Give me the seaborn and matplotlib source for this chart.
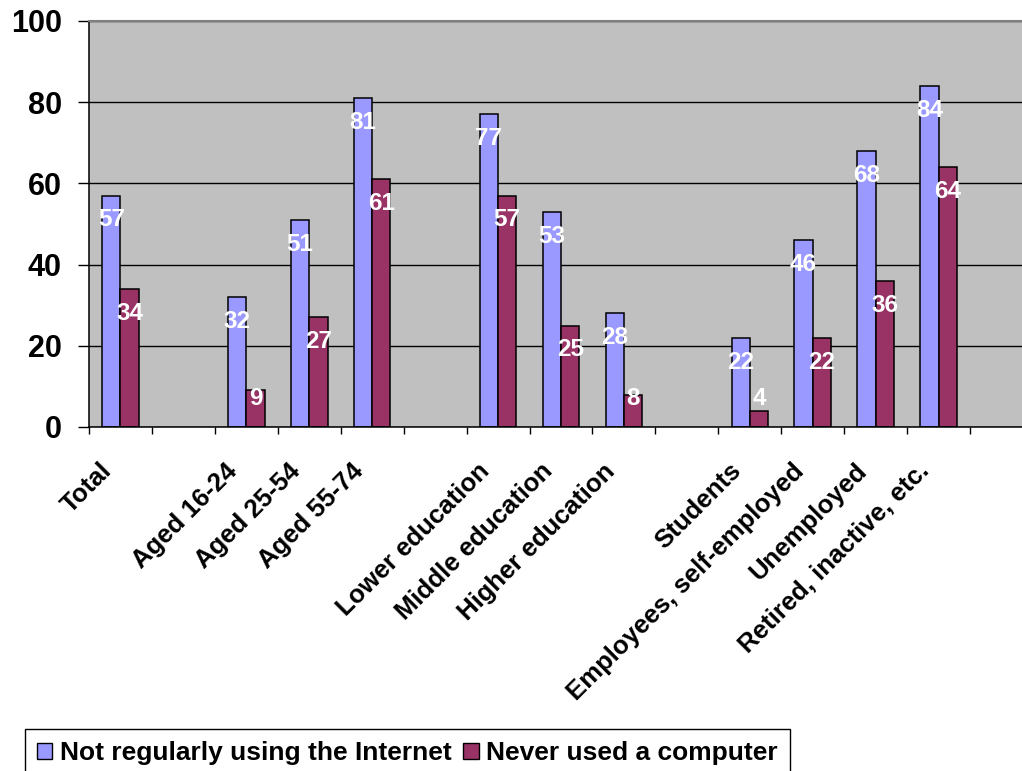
import matplotlib.pyplot as plt
import seaborn as sns
import pandas as pd
import numpy as np

# blank slots are separate (whitespace) categories so the gaps keep their width
categories = ['Total', ' ', 'Aged 16-24', 'Aged 25-54', 'Aged 55-74', '  ',
              'Lower education', 'Middle education', 'Higher education', '   ',
              'Students', 'Employees, self-employed', 'Unemployed',
              'Retired, inactive, etc.', '    ']
not_regular = [57, np.nan, 32, 51, 81, np.nan, 77, 53, 28, np.nan, 22, 46, 68, 84, np.nan]
never_used = [34, np.nan, 9, 27, 61, np.nan, 57, 25, 8, np.nan, 4, 22, 36, 64, np.nan]
series = ['Not regularly using the Internet', 'Never used a computer']
colors = ['#9999FF', '#993366']
y_ticks = [0, 20, 40, 60, 80, 100]

if __name__ == "__main__":
    sns.set_style('white')
    plt.rcParams['font.family'] = ['Liberation Sans', 'DejaVu Sans']
    plt.rcParams['font.weight'] = 'bold'
    plt.rcParams['text.color'] = 'black'

    df = pd.DataFrame({
        'Category': categories * 2,
        'Series': [series[0]] * len(categories) + [series[1]] * len(categories),
        'Value': not_regular + never_used,
    })

    fig = plt.figure(figsize=(10.22, 7.71), dpi=100)
    ax = fig.add_axes([89 / 1022, 344 / 771, 944 / 1022, 406 / 771])
    ax.set_facecolor('#C0C0C0')

    sns.barplot(data=df.dropna(), x='Category', y='Value', hue='Series',
                order=categories, hue_order=series, palette=colors,
                width=0.58, edgecolor='black', linewidth=1.1,
                errorbar=None, saturation=1, ax=ax)

    # value labels in white, just inside the top of each bar
    for cont in ax.containers:
        for bar in cont:
            h = bar.get_height()
            if np.isnan(h):
                continue
            ax.text(bar.get_x() + bar.get_width() / 2, max(h - 6, 6.9), f'{h:.0f}',
                    ha='center', va='center', color='white',
                    fontsize=17.5, fontweight='bold')

    ax.set(ylim=(0, 100), xlim=(-0.5, len(categories) - 0.5))
    ax.set_xlabel('')
    ax.set_ylabel('')
    ax.set_yticks(y_ticks)
    ax.tick_params(axis='y', labelsize=22, length=8, width=1, pad=11.5,
                   direction='out', colors='black', left=True)
    ax.yaxis.grid(True, color='black', linewidth=1)
    ax.set_axisbelow(True)

    # ticks between categories, labels hung a little left of each centre
    ax.set_xticks(np.arange(-0.5, len(categories)), labels=[''] * (len(categories) + 1))
    ax.set_xticks(np.arange(len(categories)) - 0.2, labels=categories, minor=True)
    ax.tick_params(axis='x', which='major', length=5, width=1, direction='out',
                   bottom=True, colors='black')
    ax.tick_params(axis='x', which='minor', length=0, pad=29, labelcolor='black')
    for lbl in ax.get_xticklabels(minor=True):
        lbl.set_rotation(45)
        lbl.set_ha('right')
        lbl.set_va('center')
        lbl.set_rotation_mode('anchor')
        lbl.set_fontsize(18.5)
        lbl.set_fontweight('bold')

    for side in ['left', 'bottom']:
        ax.spines[side].set_color('black')
        ax.spines[side].set_linewidth(1.1)
    ax.spines['top'].set_color('#808080')
    ax.spines['top'].set_linewidth(1.5)
    ax.spines['right'].set_visible(False)

    leg = ax.get_legend()
    handles = leg.legend_handles
    labels = [t.get_text() for t in leg.texts]
    leg.remove()
    lg = fig.legend(handles, labels, loc='center left', ncol=2,
                    bbox_to_anchor=(25 / 1022, 1 - 753 / 771),
                    borderaxespad=0, prop={'weight': 'bold', 'size': 19},
                    handlelength=0.57, handleheight=0.57, handletextpad=0.3,
                    columnspacing=0.45, borderpad=0.45, fancybox=False,
                    framealpha=1, edgecolor='black', facecolor='white',
                    labelcolor='black')
    lg.get_frame().set_linewidth(1.0)
    for h in lg.legend_handles:
        h.set_edgecolor('black')
        h.set_linewidth(1.0)

    plt.savefig('out.png', dpi=100)
